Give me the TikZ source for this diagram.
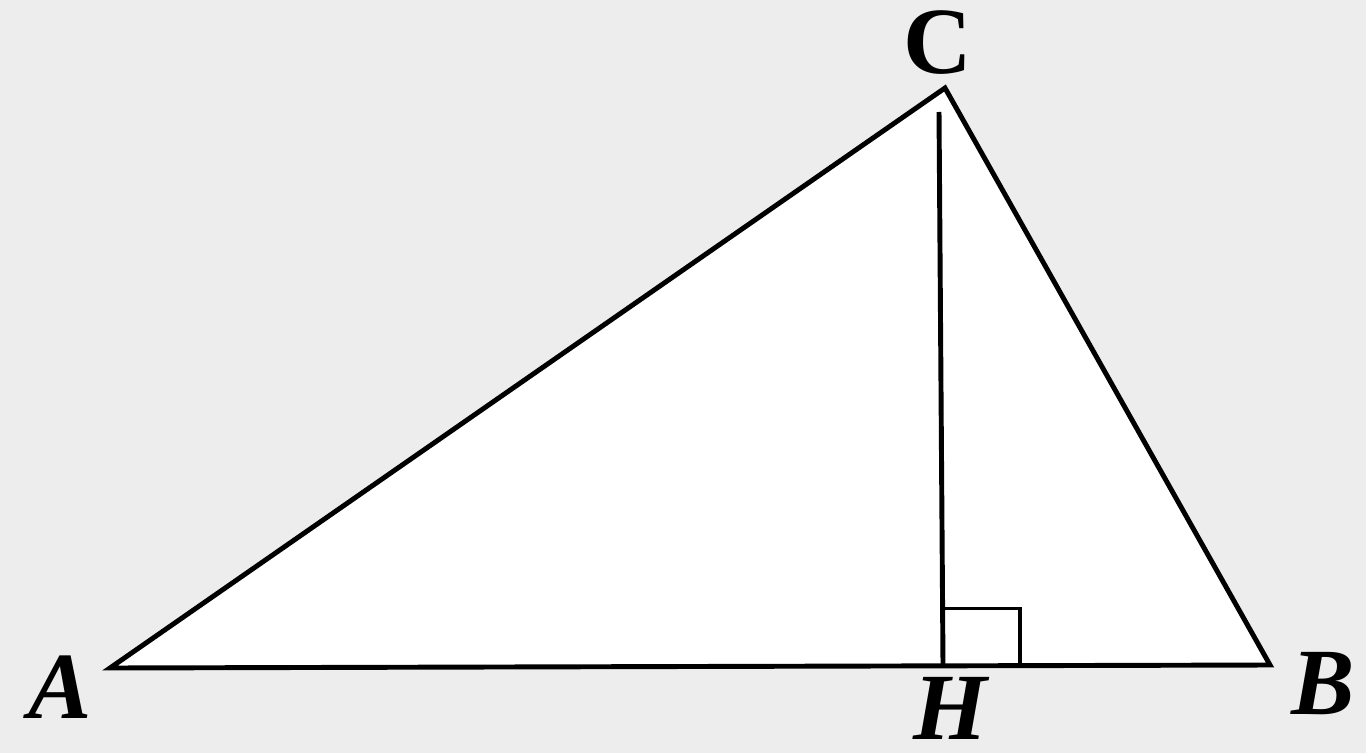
\documentclass[tikz,border=0pt]{standalone}
\usepackage{fontspec}
\setmainfont{Liberation Serif}
\usepackage{tikz}
\usetikzlibrary{positioning,calc}

\begin{document}
\begin{tikzpicture}[x=1cm,y=1cm,
  edge/.style={line width=1.4pt,line join=miter},
  vlabel/.style={font=\fontsize{27}{30}\selectfont\bfseries\itshape,inner sep=0pt}]
  \useasboundingbox (0,0) rectangle (13.66,7.53);
  \fill[black!7] (0,0) rectangle (13.66,7.53); % 背景の薄い灰色
  \coordinate (A) at (1.10,0.85); % 頂点A
  \coordinate (B) at (12.70,0.88); % 頂点B
  \coordinate (C) at (9.45,6.65); % 頂点C
  \coordinate (H) at (9.43,0.875); % 垂線の足H
  \coordinate (T) at (9.39,6.41); % 垂線の上端
  \fill[white] (A) -- (B) -- (C) -- cycle; % 三角形の内部
  \draw[edge] (A) -- (B) -- (C) -- cycle; % 三角形ABC
  \draw[edge] (T) -- (H); % 高さCH
  \draw[line width=1.1pt] ($(H)+(0,0.02)$) |- ++(0.77,0.55) |- ($(H)+(0.77,0.02)$); % 直角の記号
  \node[vlabel] (labA) at (0.60,0.66) {A}; % Aのラベル
  \node[vlabel] (labB) at (13.23,0.69) {B}; % Bのラベル
  \node[vlabel,font=\fontsize{27}{30}\selectfont\bfseries] (labC) at (9.38,7.10) {C}; % Cのラベル
  \node[vlabel] (labH) at (9.50,0.45) {H}; % Hのラベル
\end{tikzpicture}
\end{document}
